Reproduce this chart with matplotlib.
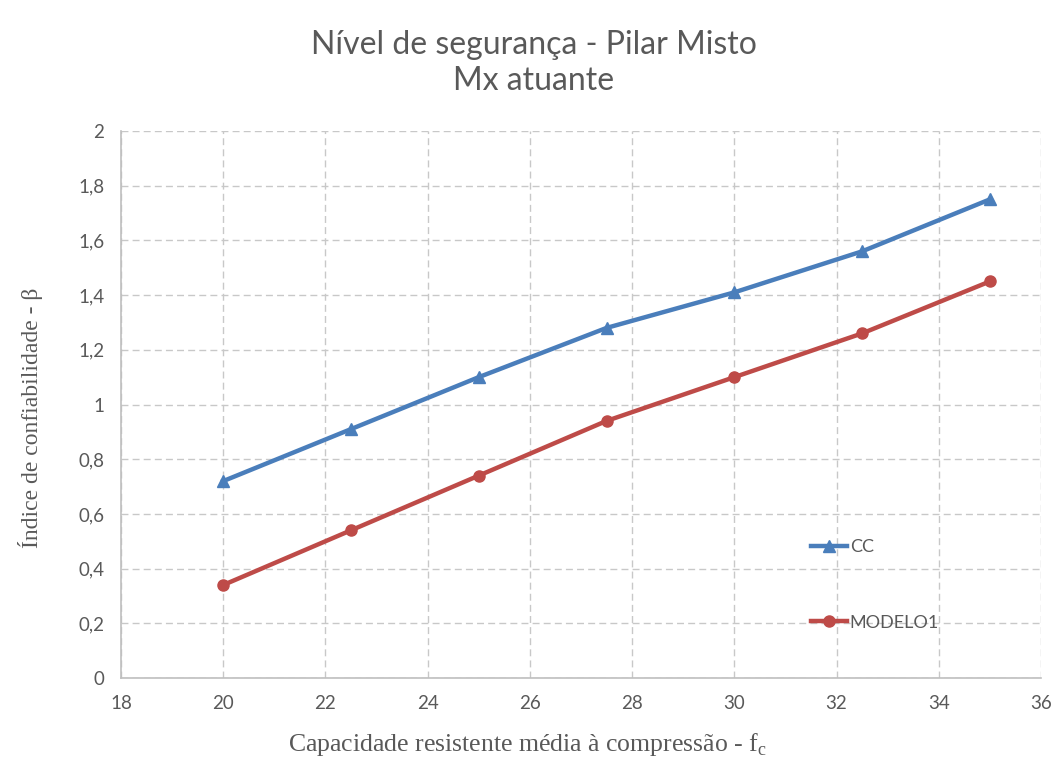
import matplotlib
matplotlib.use("Agg")
import matplotlib.pyplot as plt
from matplotlib.lines import Line2D

x_fc = [20, 22.5, 25, 27.5, 30, 32.5, 35]
cc = [0.72, 0.91, 1.10, 1.28, 1.41, 1.56, 1.75]
modelo1 = [0.34, 0.54, 0.74, 0.94, 1.10, 1.26, 1.45]
series_names = ["CC", "MODELO1"]
x_ticks = [18, 20, 22, 24, 26, 28, 30, 32, 34, 36]
y_ticks = [0, 0.2, 0.4, 0.6, 0.8, 1.0, 1.2, 1.4, 1.6, 1.8, 2.0]

blue = "#4A7EBB"
red = "#BE4B48"
gray_txt = "#595959"

fig = plt.figure(figsize=(10.54, 7.69), dpi=100)
ax = fig.add_axes([121/1054, 1-678/769, (1041-121)/1054, (678-131)/769])

ax.plot(x_fc, cc, color=blue, lw=3.2, marker="^", ms=9, label=series_names[0], zorder=3)
ax.plot(x_fc, modelo1, color=red, lw=3.2, marker="o", ms=8, label=series_names[1], zorder=3)

ax.set_xlim(18, 36)
ax.set_ylim(0, 2)
ax.set_xticks(x_ticks)
ax.set_yticks(y_ticks)

def fmt(v):
    s = ("%.1f" % v).rstrip("0").rstrip(".")
    return s.replace(".", ",")

ax.set_xticklabels([str(t) for t in x_ticks])
ax.set_yticklabels([fmt(v) for v in y_ticks])
ax.tick_params(axis="both", length=0, labelsize=13.5, labelcolor=gray_txt, pad=12)
for lab in ax.get_xticklabels() + ax.get_yticklabels():
    lab.set_family("Lato")

ax.grid(True, color="#C8C8C8", ls=(0, (5, 3)), lw=1)
for s in ["top", "right"]:
    ax.spines[s].set_visible(False)
for s in ["left", "bottom"]:
    ax.spines[s].set_color("#BFBFBF")
    ax.spines[s].set_linewidth(1.2)

fig.text(534/1054, 1-45/769, "Nível de segurança - Pilar Misto", ha="center", va="center",
         fontsize=23, color=gray_txt, family="Lato")
fig.text(534/1054, 1-81/769, "Mx atuante", ha="center", va="center",
         fontsize=23, color=gray_txt, family="Lato")

fig.text(527/1054, 1-745/769, "Capacidade resistente média à compressão - f$_\\mathregular{c}$",
         ha="center", va="center", fontsize=18.5, family="Liberation Serif", color=gray_txt)
fig.text(31/1054, 1-418/769, "Índice de confiabilidade - β", ha="center", va="center",
         rotation=90, fontsize=17, family=["Liberation Serif", "DejaVu Serif"], color=gray_txt)

h1 = Line2D([], [], color=blue, lw=3.2, marker="^", ms=9)
h2 = Line2D([], [], color=red, lw=3.2, marker="o", ms=8)
leg = ax.legend([h1, h2], series_names, loc="center left",
                bbox_to_anchor=(0.74, 0.17), bbox_transform=ax.transAxes,
                frameon=False, labelspacing=3.3, handlelength=2.0, handletextpad=0.15,
                borderpad=0, prop={"family": "Lato", "size": 13})
for t in leg.get_texts():
    t.set_color(gray_txt)

fig.savefig("out.png", dpi=100)
